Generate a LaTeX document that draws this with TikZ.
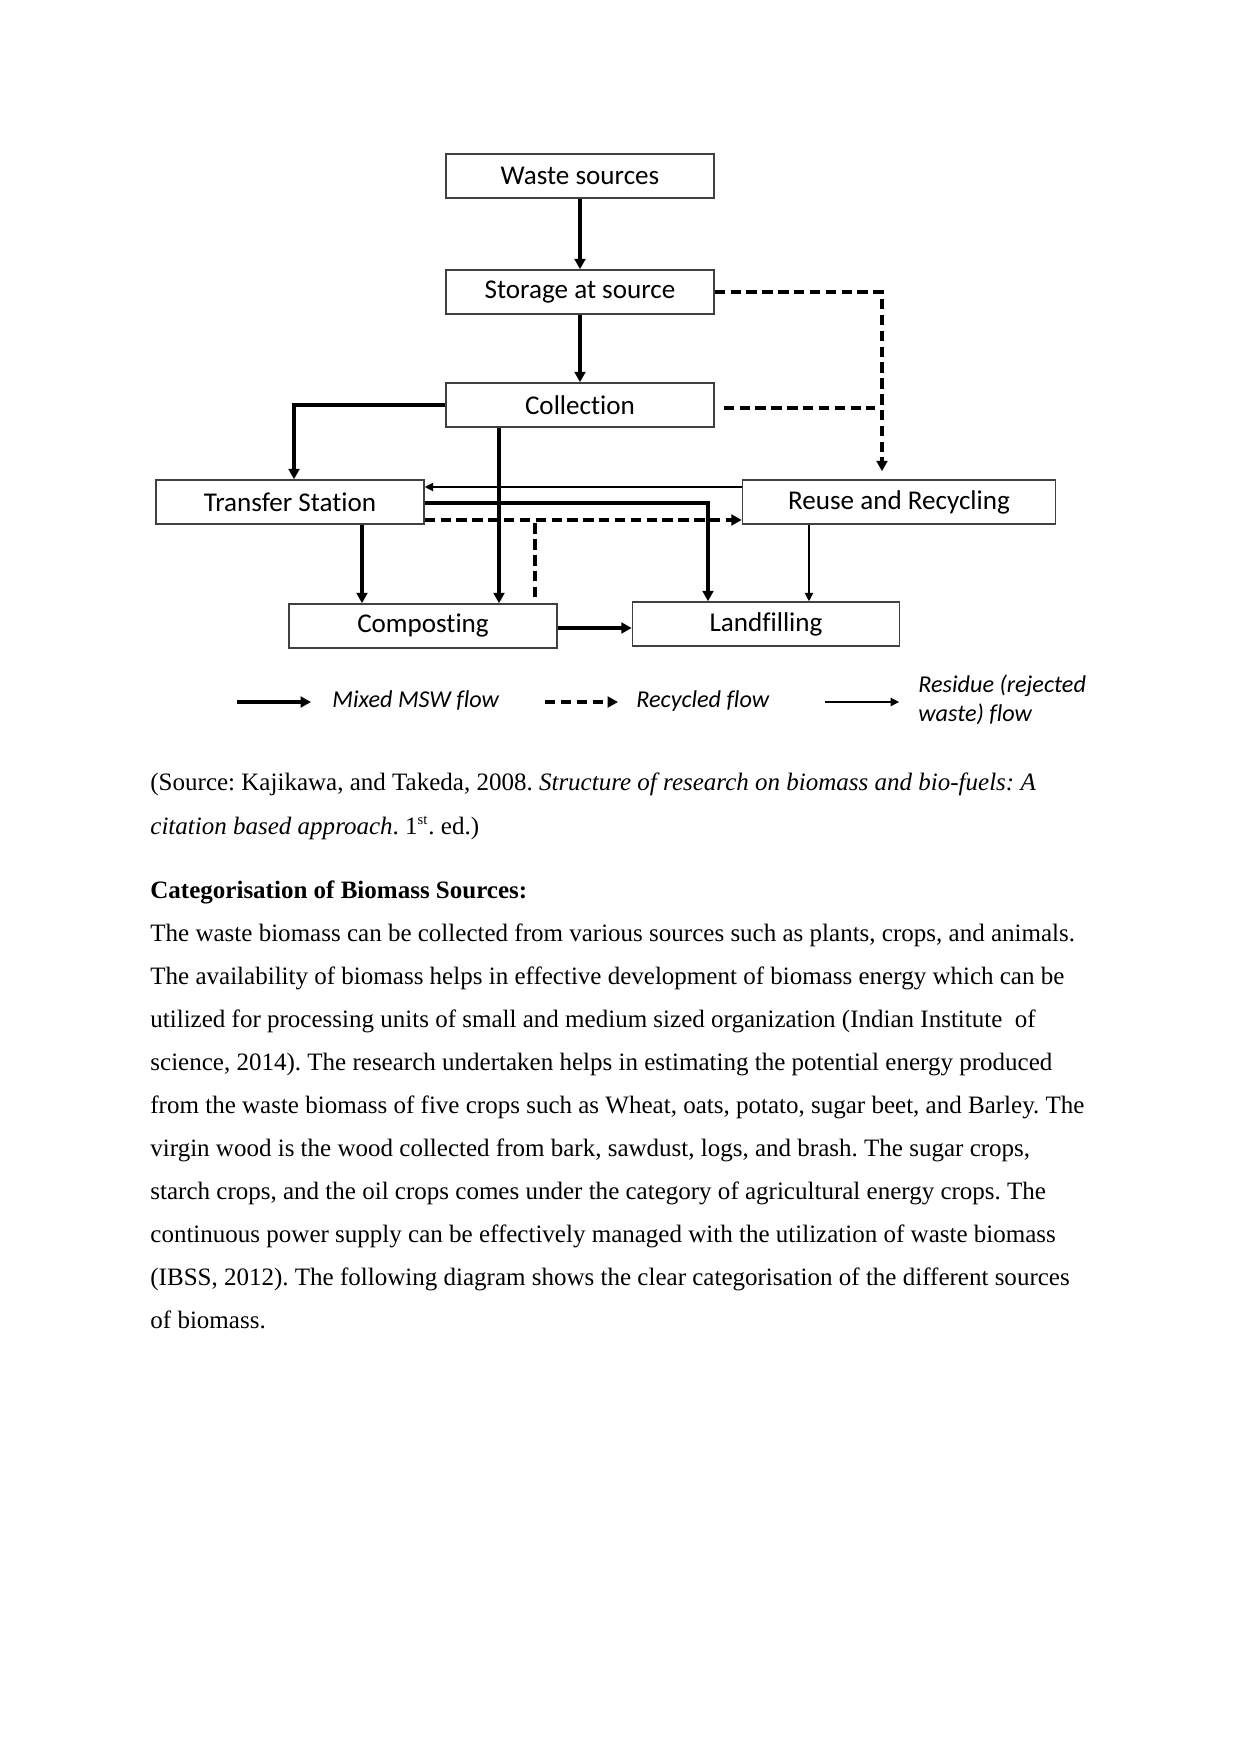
\documentclass[tikz,border=0pt]{standalone}
\usepackage{fontspec}
\setmainfont{Liberation Serif}
\newfontfamily\diafont[Ligatures=NoCommon]{Carlito}
\usetikzlibrary{arrows.meta}
\begin{document}
\frenchspacing
\begin{tikzpicture}[x=0.4797pt,y=-0.4797pt,
  box/.style={draw=black!75, line width=0.75pt, inner sep=0pt, minimum height=44*0.4797pt,
    font=\diafont\fontsize{13}{15}\selectfont},
  mixed/.style={line width=1.7pt, -{Triangle[length=5pt,width=5.2pt]}},
  recyc/.style={line width=1.7pt, dash pattern=on 5pt off 2.6pt, -{Triangle[length=5pt,width=5.2pt]}},
  recycline/.style={line width=1.7pt, dash pattern=on 5pt off 2.6pt},
  resid/.style={line width=0.55pt, -{Triangle[length=4pt,width=4pt]}},
  legtext/.style={anchor=west, inner sep=0pt, font=\diafont\itshape\fontsize{11.6}{14}\selectfont},
  body/.style={anchor=base west, inner sep=0pt, font=\fontsize{12}{14}\selectfont}]
\useasboundingbox[fill=white] (0,0) rectangle (1241,1754);

% boxes
\node[box, minimum width=268*0.4797pt] (waste) at (580,176) {Waste sources};
\node[box, minimum width=268*0.4797pt] (storage) at (580,292) {Storage at source};
\node[box, minimum width=268*0.4797pt] (collection) at (580,405) {Collection};
\node[box, minimum width=268*0.4797pt] (transfer) at (290,502) {Transfer Station};
\node[box, minimum width=313*0.4797pt] (reuse) at (899,502) {Reuse and Recycling};
\node[box, minimum width=268*0.4797pt] (compost) at (423,626) {Composting};
\node[box, minimum width=267*0.4797pt] (landfill) at (766,624) {Landfilling};

% helper coordinates
\coordinate (c0) at (294,0);
\coordinate (c1) at (499,0);
\coordinate (c2) at (362,0);
\coordinate (c3) at (708,0);
\coordinate (c4) at (535,0);
\coordinate (c5) at (809,0);
\coordinate (c6) at (882,0);
\coordinate (c7) at (875,408);
\coordinate (y1) at (0,487);
\coordinate (y2) at (0,503);
\coordinate (y3) at (0,520);
\coordinate (y4) at (0,628);

% connectors
\draw[mixed] (waste) -- (storage);
\draw[mixed] (storage) -- (collection);
\draw[mixed] (collection.west) -| (transfer.north -| c0);
\draw[mixed] (collection.south -| c1) -- (compost.north -| c1);
\draw[mixed] (transfer.south -| c2) -- (compost.north -| c2);
\draw[resid] (reuse.west |- y1) -- (transfer.east |- y1);
\draw[mixed] (transfer.east |- y2) -| (landfill.north -| c3);
\draw[recyc] (transfer.east |- y3) -- (reuse.west |- y3);
\draw[recycline, shorten <=6*0.4797pt] (compost.north -| c4) -- (y3 -| c4);
\draw[mixed] (compost.east |- y4) -- (landfill.west |- y4);
\draw[resid] (reuse.south -| c5) -- (landfill.north -| c5);
\draw[recyc, shorten >=8*0.4797pt] (storage.east) -| (reuse.north -| c6);
\draw[recycline, shorten <=9*0.4797pt] (collection.east |- c7) -- (c7);

% legend
\coordinate (l1a) at (237,702); \coordinate (l1b) at (311,702);
\coordinate (l2a) at (545,702); \coordinate (l2b) at (618,702);
\coordinate (l3a) at (825,702); \coordinate (l3b) at (899,702);
\draw[mixed] (l1a) -- (l1b);
\draw[recyc] (l2a) -- (l2b);
\draw[resid] (l3a) -- (l3b);
\node[legtext] (t1) at (332,701) {Mixed MSW flow};
\node[legtext] (t2) at (636,701) {Recycled flow};
\node[legtext, align=left] (t3) at (918,700) {Residue (rejected\\waste) flow};

% text
\node[body] (s1) at (150,790) {(Source: Kajikawa, and Takeda, 2008. \textit{Structure of research on biomass and bio-fuels: A}};
\node[body] (s2) at (150,834) {\textit{citation based approach}. 1\textsuperscript{\scriptsize st}. ed.)};
\node[body] (h) at (150,898) {\textbf{Categorisation of Biomass Sources:}};
\node[body] (p1) at (150,941) {The waste biomass can be collected from various sources such as plants, crops, and animals.};
\node[body] (p2) at (150,984.1) {The availability of biomass helps in effective development of biomass energy which can be};
\node[body] (p3) at (150,1027.2) {utilized for processing units of small and medium sized organization (Indian Institute\ \ of};
\node[body] (p4) at (150,1070.3) {science, 2014). The research undertaken helps in estimating the potential energy produced};
\node[body] (p5) at (150,1113.4) {from the waste biomass of five crops such as Wheat, oats, potato, sugar beet, and Barley. The};
\node[body] (p6) at (150,1156.5) {virgin wood is the wood collected from bark, sawdust, logs, and brash. The sugar crops,};
\node[body] (p7) at (150,1199.6) {starch crops, and the oil crops comes under the category of agricultural energy crops. The};
\node[body] (p8) at (150,1242.7) {continuous power supply can be effectively managed with the utilization of waste biomass};
\node[body] (p9) at (150,1285.8) {(IBSS, 2012). The following diagram shows the clear categorisation of the different sources};
\node[body] (p10) at (150,1328.9) {of biomass.};
\end{tikzpicture}
\end{document}
